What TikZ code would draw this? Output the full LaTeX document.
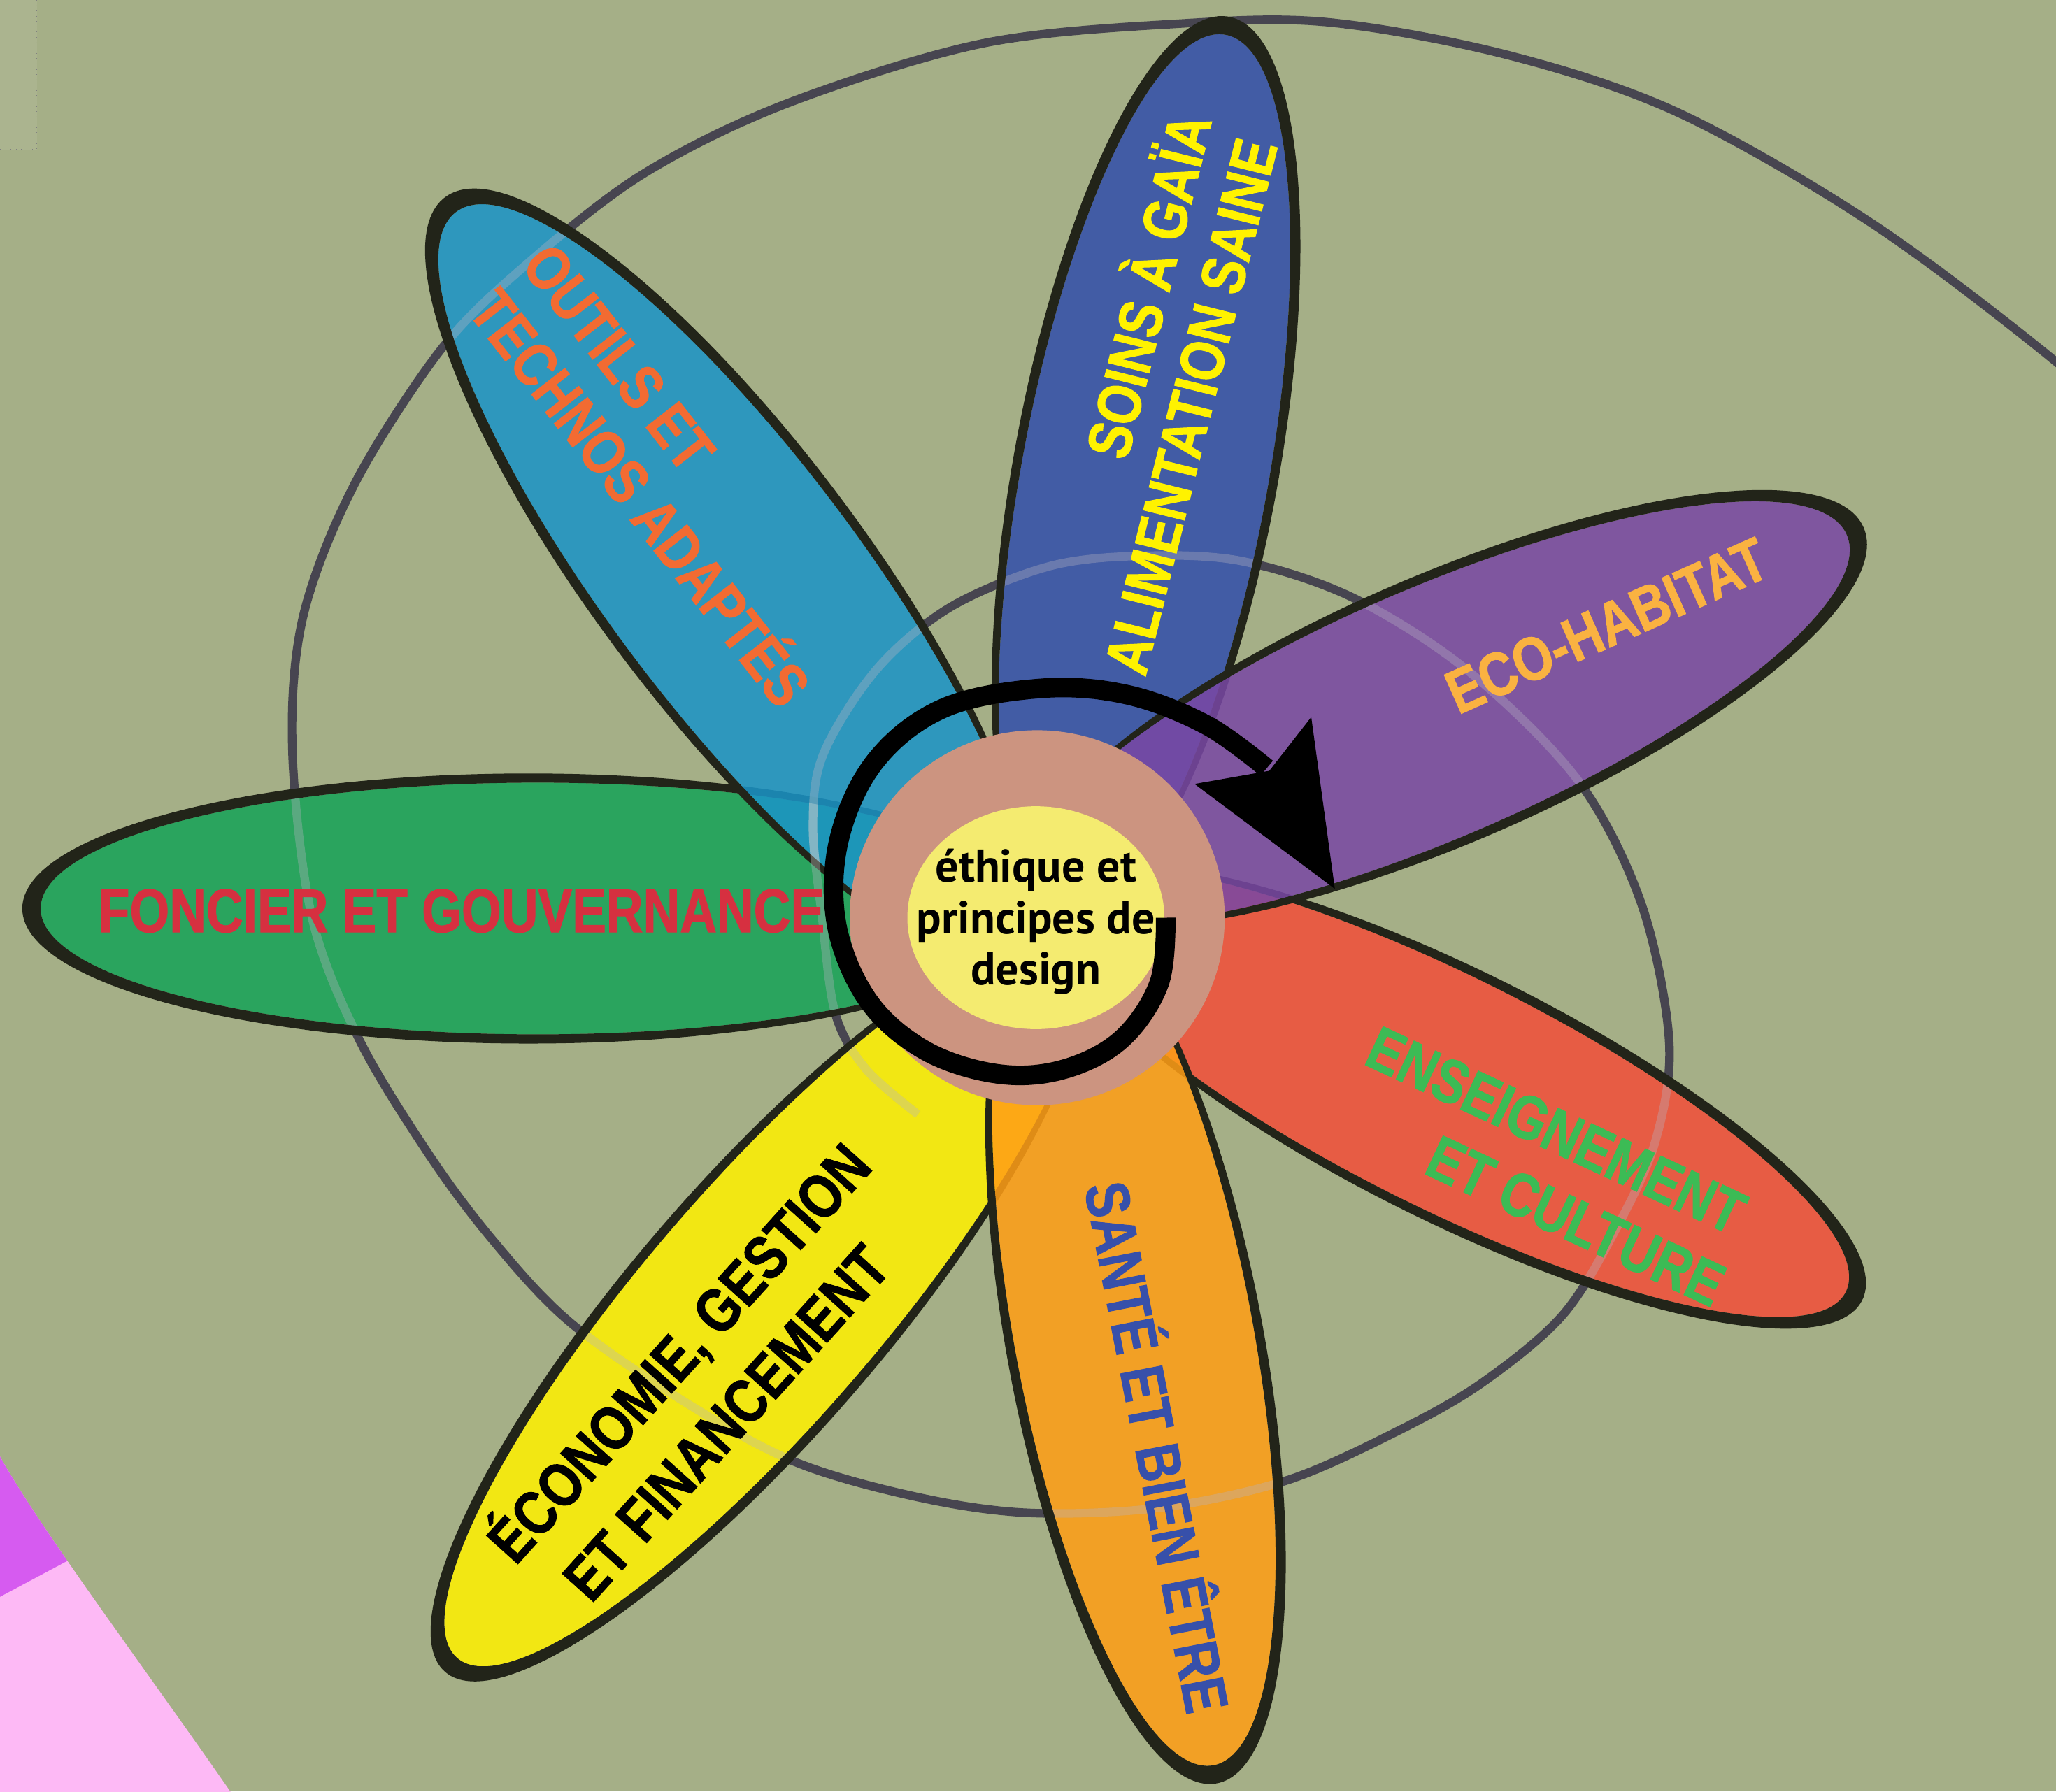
\documentclass[tikz,border=0pt]{standalone}
\usepackage{fontspec}
\newfontfamily\petalfont{Liberation Sans}[FakeStretch=0.83, FakeBold=1.2]
\newfontfamily\centerfont{PT Sans}
\definecolor{bgc}{HTML}{A5AF87}
\definecolor{spiralc}{HTML}{474550}
\definecolor{glowc}{HTML}{D0D0D0}
\definecolor{petalline}{HTML}{222419}
\definecolor{pinkc}{HTML}{FDB9F5}
\definecolor{purplec}{HTML}{D65BF0}
\definecolor{cgreen}{HTML}{16A358}
\definecolor{cblue}{HTML}{1B94C7}
\definecolor{cdblue}{HTML}{324FAA}
\definecolor{cpurple}{HTML}{7948A4}
\definecolor{cred}{HTML}{F34F39}
\definecolor{corange}{HTML}{FF9E16}
\definecolor{cyellow}{HTML}{FFF100}
\definecolor{tred}{HTML}{D63040}
\definecolor{torange}{HTML}{F26B32}
\definecolor{tyellow}{HTML}{FFF200}
\definecolor{tgold}{HTML}{FAB241}
\definecolor{tgreen}{HTML}{3CBB55}
\definecolor{tblue}{HTML}{3750AA}
\definecolor{brownc}{HTML}{CC9480}
\definecolor{centerc}{HTML}{F4EB70}
\tikzset{
  ptxt/.style={font=\petalfont\bfseries\fontsize{26.7}{32}\selectfont, anchor=base, inner sep=0pt},
  ctxt/.style={font=\centerfont\bfseries\fontsize{20}{24}\selectfont, anchor=base, inner sep=0pt, text=black}
}
\newcommand{\graySpiral}[1]{\draw[#1] plot[smooth, tension=0.55] coordinates {(700,850) (660,815) (637,773) (627,700) (620,630) (628,575) (669,510) (725,463) (800,432) (870,424) (947,428) (1032,456) (1120,512) (1204,596) (1252,690) (1273,795) (1262,872) (1230,942) (1191,1004) (1130,1055) (1067,1091) (982,1129) (885,1150) (785,1154) (700,1142) (606,1115) (520,1068) (434,1008) (375,945) (326,879) (274,793) (238,700) (223,573) (231,471) (270,370) (336,267) (400,203) (490,133) (600,79) (750,33) (900,18) (1013,17) (1150,42) (1280,86) (1427,170) (1568,276) (1640,345)};}
\def\pDd{7}
\def\pTt{7}
\newcommand{\petal}[6]{%
  \pgfmathsetmacro\pAa{#4-\pDd}%
  \pgfmathsetmacro\pBb{#5-\pTt}%
  \begin{scope}[shift={(#1,#2)}, rotate=#3]
    \fill[#6, fill opacity=0.86] (-\pDd,0) ellipse [x radius=\pAa, y radius=\pBb];
    \fill[petalline, even odd rule] (0,0) ellipse [x radius=#4, y radius=#5] (-\pDd,0) ellipse [x radius=\pAa, y radius=\pBb];
  \end{scope}}
\newcommand{\petalglow}[5]{%
  \pgfmathsetmacro\pAa{#4-\pDd}%
  \pgfmathsetmacro\pBb{#5-\pTt}%
  \begin{scope}
    \clip[shift={(#1,#2)}, rotate=#3] (-\pDd,0) ellipse [x radius=\pAa, y radius=\pBb];
    \graySpiral{glowc, line width=3.7pt, draw opacity=0.35}
  \end{scope}}
\begin{document}
\begin{tikzpicture}[x=0.02cm, y=-0.02cm]
\useasboundingbox (0,0) rectangle (1568,1366.4);
\clip (0,0) rectangle (1568,1366.4);
\fill[bgc] (0,0) rectangle (1568,1366.4);
% faint corner panel
\fill[white, fill opacity=0.07] (0,0) rectangle (28,114);
\draw[gray, dotted, line width=0.3pt] (28,0) -- (28,114) -- (0,114);
% pink disc segment bottom left
\begin{scope}
  \clip (0,1111) .. controls (30,1165) and (105,1265) .. (176,1367) -- (0,1367) -- cycle;
  \fill[pinkc] (0,1100) rectangle (200,1367);
  \fill[purplec] (0,1090) -- (120,1090) -- (120,1154) -- (0,1218) -- cycle;
\end{scope}
% grey spiral
\graySpiral{spiralc, line width=3.7pt}
% petals
\petal{1109}{836}{-26.6}{348}{95}{cred}
\petal{578}{999}{229.2}{365}{97}{cyellow}
\petal{866}{1026}{-79.5}{340}{98}{corange}
\petal{403}{693}{180}{386}{103}{cgreen}
\petal{556}{438}{127}{360}{103}{cblue}
\petal{874}{357}{79.6}{350}{101}{cdblue}
\petal{1101}{541}{23.4}{349}{102}{cpurple}
% spiral seen through petals
\petalglow{1109}{836}{-26.6}{348}{95}
\petalglow{866}{1026}{-79.5}{340}{98}
\petalglow{578}{999}{229.2}{365}{97}
\petalglow{403}{693}{180}{386}{103}
\petalglow{556}{438}{127}{360}{103}
\petalglow{874}{357}{79.6}{350}{101}
\petalglow{1101}{541}{23.4}{349}{102}
% centre
\fill[brownc] (791,700) circle [radius=143];
\fill[centerc] (790,700) ellipse [x radius=98, y radius=85];
\draw[black, line width=8.5pt] plot[smooth, tension=0.6] coordinates {(889,700) (884,750) (855,793) (810,816) (760,819) (705,801) (662,763) (638,705) (640,640) (668,580) (720,540) (795,525) (860,530) (920,553) (966,586)};
\fill[black] (1018,678) -- (1000,547) -- (968,588) -- (911,598) -- cycle;
\node[ctxt] (c1) at (790,673) {éthique et};
\node[ctxt] (c2) at (790,712) {principes de};
\node[ctxt] (c3) at (790,751) {design};
% petal labels
\node[ptxt, text=tred] (foncier) at (352,711) {FONCIER ET GOUVERNANCE};
\node[ptxt, text=torange, rotate=-52] (outils1) at (459,283) {OUTILS ET};
\node[ptxt, text=torange, rotate=-52] (outils2) at (475,390) {TECHNOS ADAPTÉS};
\node[ptxt, text=tyellow, rotate=76] (soins1) at (892,222) {SOINS À GAÏA};
\node[ptxt, text=tyellow, rotate=76] (soins2) at (924,314) {ALIMENTATION SAINE};
\node[ptxt, text=tgold, rotate=24] (eco) at (1232,492) {ECO-HABITAT};
\node[ptxt, text=tgreen, rotate=-25] (ens1) at (1180,877) {ENSEIGNEMENT};
\node[ptxt, text=tgreen, rotate=-25] (ens2) at (1195,946) {ET CULTURE};
\node[ptxt, text=tblue, rotate=-79] (sante) at (866,1107) {SANTÉ ET BIEN ÊTRE};
\node[ptxt, text=black, rotate=48] (econ1) at (530,1043) {ÉCONOMIE, GESTION};
\node[ptxt, text=black, rotate=48] (econ2) at (566,1096) {ET FINANCEMENT};
\end{tikzpicture}
\end{document}
